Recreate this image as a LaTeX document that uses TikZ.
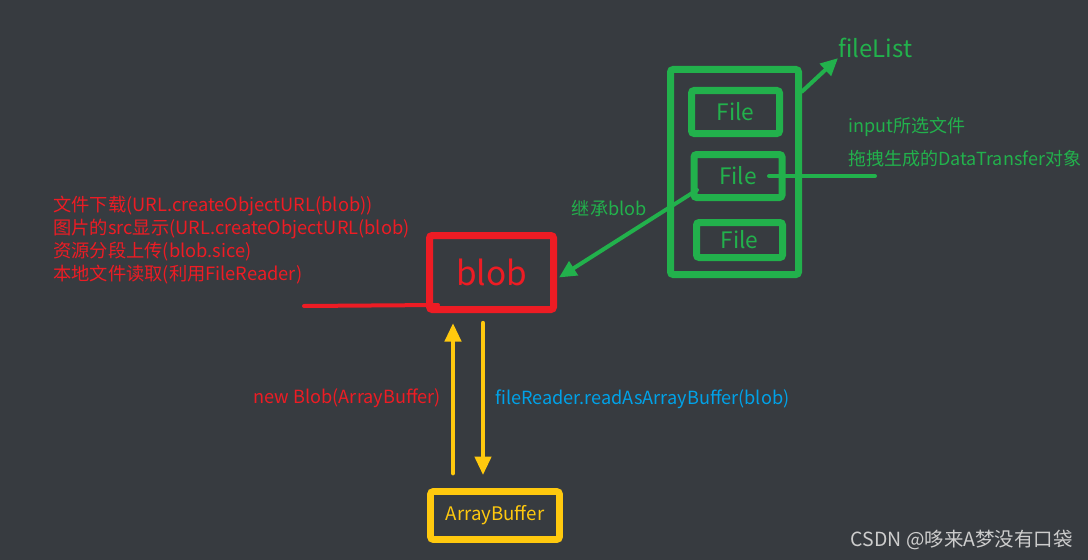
\documentclass[tikz,border=0pt]{standalone}
\usepackage{fontspec}
\setmainfont{Noto Sans CJK SC}
\usetikzlibrary{arrows.meta,calc,positioning}
\definecolor{bg}{RGB}{55,59,64}
\definecolor{cred}{RGB}{237,28,36}
\definecolor{cgreen}{RGB}{34,177,76}
\definecolor{cyellow}{RGB}{255,201,14}
\definecolor{cblue}{RGB}{0,162,232}
\definecolor{cmark}{RGB}{205,205,205}
\tikzset{%
	blobbox/.style  = {draw=cred, line width=5.25pt, rounded corners=2pt, minimum width=93pt, minimum height=55.5pt, text=cred, font=\fontsize{25}{30}\selectfont},
	listbox/.style  = {draw=cgreen, line width=5.25pt, rounded corners=2pt, minimum width=96pt, minimum height=153.75pt},
	filebox/.style  = {draw=cgreen, line width=5.25pt, rounded corners=2pt, minimum width=66pt, minimum height=32.25pt, text=cgreen, font=\fontsize{17}{20}\selectfont},
	bufbox/.style   = {draw=cyellow, line width=5pt, rounded corners=2pt, minimum width=96.75pt, minimum height=36pt, text=cyellow, font=\fontsize{14}{16}\selectfont},
	note/.style     = {inner sep=0pt, font=\fontsize{13.6}{17.25}\selectfont}, % Text
	garrow/.style   = {draw=cgreen, line width=3pt, line cap=round, -{Triangle[length=13pt,width=12pt]}},
	yarrow/.style   = {draw=cyellow, line width=3.3pt, line cap=round, -{Triangle[length=14pt,width=12pt]}},
	gline/.style    = {draw=cgreen, line width=3pt, line cap=round},
	rline/.style    = {draw=cred, line width=3pt, line cap=round},
}

\begin{document}
\begin{tikzpicture}[x=0.75pt,y=-0.75pt]
	\fill[bg] (0,0) rectangle (1088,560);
	\useasboundingbox (0,0) rectangle (1088,560);
	% blob and ArrayBuffer
	\node [blobbox] (blob) at (491.5,272.5) {blob};
	\node [bufbox] (ab) at (495,515.5) {ArrayBuffer};
	% fileList
	\node [listbox] (files) at (734.5,172) {};
	\node [filebox] (f1) at (735.5,112) {File};
	\node [filebox] (f2) at (738,176) {File};
	\node [filebox, minimum width=64.5pt, minimum height=26.25pt] (f3) at (739.5,240) {File};
	\node [note, text=cgreen, anchor=west, font=\fontsize{18}{22}\selectfont] (fl) at (838,48) {fileList};
	\node [note, text=cgreen, anchor=west, align=left, font=\fontsize{13.5}{24.75}\selectfont] (src) at (848,142.5) {input所选文件\\拖拽生成的DataTransfer对象};
	\coordinate (srcend) at (875,176);
	% uses of blob
	\node [note, text=cred, anchor=west, align=left, font=\fontsize{13.7}{17.25}\selectfont] (uses) at (53,240.5) {文件下载(URL.createObjectURL(blob))\\图片的src显示(URL.createObjectURL(blob)\\资源分段上传(blob.sice)\\本地文件读取(利用FileReader)};
	\coordinate (useend) at (304,306);
	\node [note, text=cmark, anchor=east, font=\fontsize{14.6}{17}\selectfont] (csdn) at (1073,540) {CSDN @哆来A梦没有口袋};
	% connectors
	\draw[garrow] (files.50) -- (fl.south west);
	\draw[gline] ([shift={(31,0)}]f2.center) -- (srcend);
	\draw[garrow] ([shift={(-41,14)}]f2.center) -- node[note, text=cgreen, pos=0.34, anchor=south east, inner sep=1pt] {继承blob} ([shift={(2,5)}]blob.east);
	\draw[rline] (useend) -- ([shift={(12,-8)}]blob.south west);
	\draw[yarrow] ([shift={(-42,-15)}]ab.north) -- node[note, text=cred, left=7.5pt] {new Blob(ArrayBuffer)} ([shift={(-38.5,10)}]blob.south);
	\draw[yarrow] ([shift={(-8.5,10)}]blob.south) -- node[note, text=cblue, right=7.5pt] {fileReader.readAsArrayBuffer(blob)} ([shift={(-12,-13)}]ab.north);
\end{tikzpicture}
\end{document}
